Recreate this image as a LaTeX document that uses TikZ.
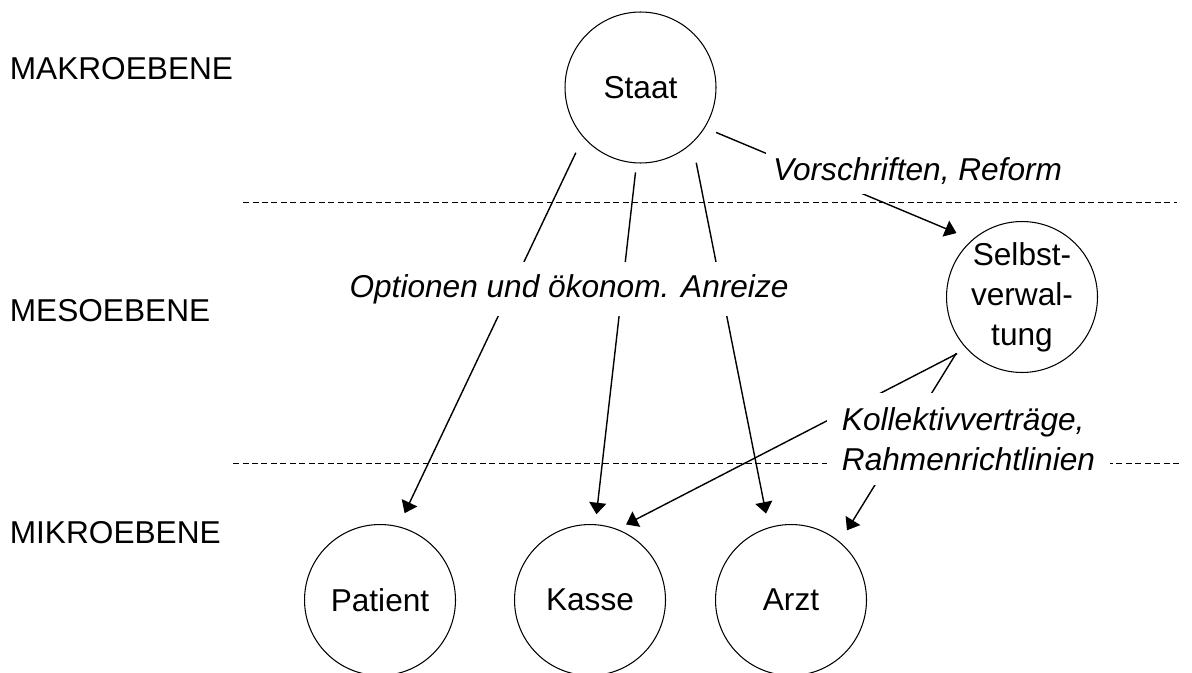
\documentclass[tikz,border=0pt]{standalone}
\usepackage{fontspec}
\setmainfont{Liberation Sans}
\usetikzlibrary{arrows.meta}

\begin{document}
\begin{tikzpicture}[x=0.02cm, y=-0.02cm,
  font=\fontsize{18pt}{22.7pt}\selectfont,
  kreis/.style={circle, draw, line width=0.6pt, minimum size=3.02cm, inner sep=0pt, align=center},
  ebene/.style={anchor=base west, inner sep=0pt},
  lbl/.style={fill=white, font=\fontsize{18pt}{22.7pt}\selectfont\itshape, inner xsep=0.15cm},
  arr/.style={line width=0.8pt, -{Triangle[length=0.23cm, width=0.34cm]}},
  trenn/.style={line width=0.55pt, dash pattern=on 0.12cm off 0.07cm}]
\useasboundingbox (0,0) rectangle (1192,672);

% Levels
\node[ebene] (makro) at (9.5,79.3) {MAKROEBENE};
\node[ebene] (meso) at (9.5,321.7) {MESOEBENE};
\node[ebene] (mikro) at (9.5,543.3) {MIKROEBENE};

% Separating lines
\draw[trenn] (243,202.7) -- (1177,202.7);
\draw[trenn] (233,463.3) -- (1180,463.3);

% Actors
\node[kreis] (staat) at (640.5,87.5) {Staat};
\node[kreis] (selbst) at (1022,297) {Selbst-\\verwal-\\tung};
\node[kreis] (patient) at (380,600) {Patient};
\node[kreis] (kasse) at (590,600) {Kasse};
\node[kreis] (arzt) at (791,600) {Arzt};

% Arrows from the state
\draw[arr, shorten <=0.34cm, shorten >=0.29cm] (staat.221) -- (patient.76);
\draw[arr, shorten <=0.18cm, shorten >=0.20cm] (staat.267) -- (kasse.86);
\draw[arr, shorten <=0.40cm, shorten >=0.28cm] (staat.313) -- (arzt.107);
\draw[arr, shorten <=0.24cm, shorten >=0.34cm] (staat.328) -- (selbst.131);

% Arrows from self-administration
\draw[arr, shorten <=0.21cm, shorten >=0.20cm] (selbst.223) -- (kasse.69);
\draw[arr, shorten <=0.22cm, shorten >=0.27cm] (selbst.218) -- (arzt.50);

% Labels over the arrows
\node[lbl, inner ysep=0.24cm] (optionen) at (569,289) {Optionen und ökonom. Anreize};
\node[lbl, inner ysep=0.19cm] (vorschr) at (917.6,171.5) {Vorschriften, Reform};
\node[lbl, inner xsep=0.3cm, inner ysep=0.29cm, align=left] (kollektiv) at (968.5,439) {Kollektivverträge,\\Rahmenrichtlinien};
\end{tikzpicture}
\end{document}
